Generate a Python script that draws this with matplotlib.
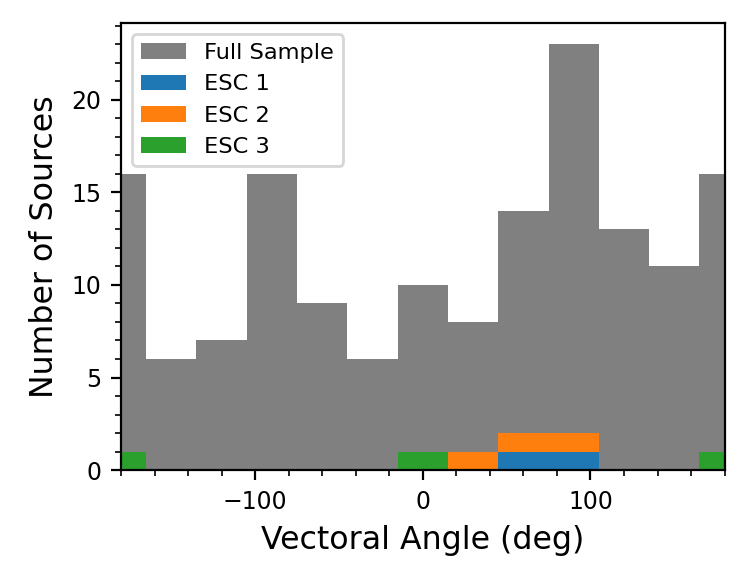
import matplotlib.pyplot as plt
from matplotlib.ticker import MultipleLocator

# bin edges of the histogram (30 deg bins centred on multiples of 30)
bin_edges = [-195, -165, -135, -105, -75, -45, -15, 15, 45, 75, 105, 135, 165, 195]

# counts per bin
full_sample = [16, 6, 7, 16, 9, 6, 10, 8, 14, 23, 13, 11, 16]
esc1 = [0, 0, 0, 0, 0, 0, 0, 0, 1, 1, 0, 0, 0]
esc2 = [0, 0, 0, 0, 0, 0, 0, 1, 1, 1, 0, 0, 0]
esc3 = [1, 0, 0, 0, 0, 0, 1, 0, 0, 0, 0, 0, 1]

centers = [(a + b) / 2 for a, b in zip(bin_edges[:-1], bin_edges[1:])]

fig = plt.figure(figsize=(3.735, 2.92), dpi=200)
ax = fig.add_axes([0.162, 0.195, 0.808, 0.766])

ax.hist(centers, bins=bin_edges, weights=full_sample, color='gray', label='Full Sample')
ax.hist([centers, centers, centers], bins=bin_edges, weights=[esc1, esc2, esc3],
        stacked=True, color=['#1f77b4', '#ff7f0e', '#2ca02c'],
        label=['ESC 1', 'ESC 2', 'ESC 3'])

ax.set_xlim(-180, 180)
ax.set_ylim(0, 24.15)
ax.xaxis.set_major_locator(MultipleLocator(100))
ax.xaxis.set_minor_locator(MultipleLocator(20))
ax.yaxis.set_major_locator(MultipleLocator(5))
ax.yaxis.set_minor_locator(MultipleLocator(1))
ax.tick_params(labelsize=8.5)

ax.set_xlabel('Vectoral Angle (deg)', fontsize=11.4)
ax.set_ylabel('Number of Sources', fontsize=11.4)

ax.legend(loc='upper left', fontsize=8.1, labelspacing=0.5)

fig.savefig('out.png', dpi=200)
